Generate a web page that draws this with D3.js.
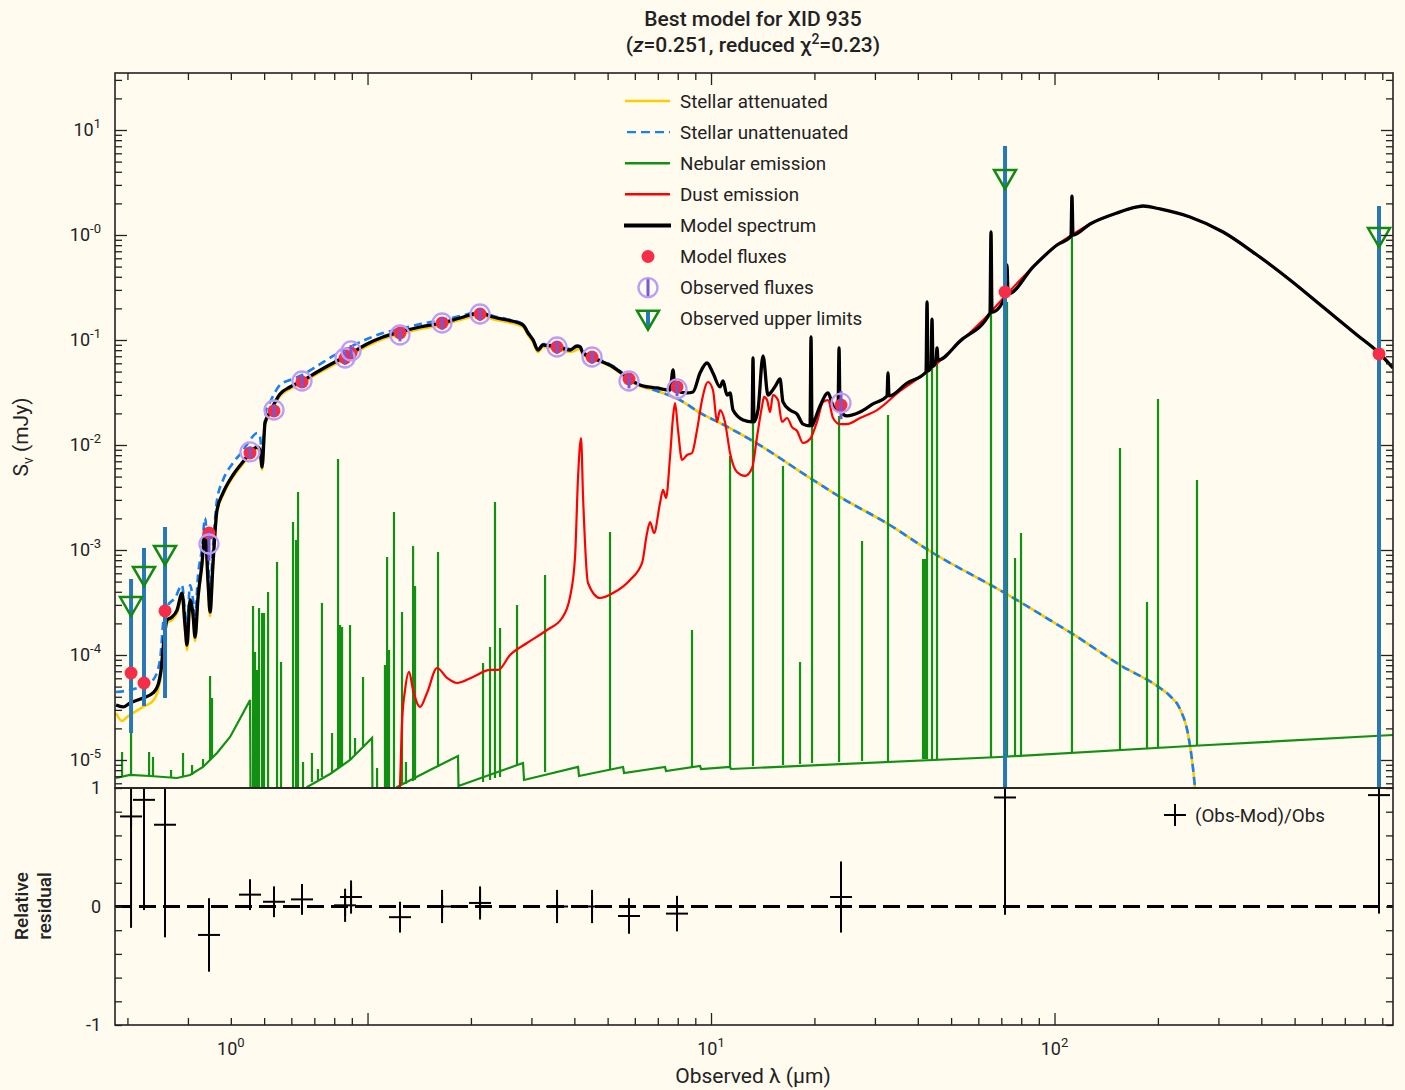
<!DOCTYPE html>
<html>
<head>
<meta charset="utf-8">
<script src="https://cdn.jsdelivr.net/npm/d3@7"></script>
<style>
  body { margin: 0; background: #fffbef; }
  svg text { font-family: Roboto, "Noto Sans", sans-serif; fill: #222; }
</style>
</head>
<body>
<svg id="chart" width="1405" height="1090"></svg>
<script>
// ---- data (wavelength in micron, flux in mJy) ----
var stellarAtt = [[0.1853,2.80e-5],[0.1929,2.35e-5],[0.1995,2.57e-5],[0.2076,2.80e-5],[0.2221,3.20e-5],[0.2374,3.65e-5],[0.2455,4.64e-5],[0.2505,6.45e-5],[0.2555,1.245e-4],[0.2608,2.02e-4],[0.2697,2.15e-4],[0.2789,2.51e-4],[0.2884,3.57e-4],[0.2942,1.73e-4],[0.2982,1.116e-4],[0.3043,3.13e-4],[0.3105,2.25e-4],[0.3147,1.36e-4],[0.3211,3.34e-4],[0.3298,7.04e-4],[0.3365,1.451e-3],[0.3434,4.44e-4],[0.3480,2.35e-4],[0.3550,7.04e-4],[0.3646,2.30e-3],[0.3796,3.34e-3],[0.4058,4.96e-3],[0.4311,6.45e-3],[0.4550,8.03e-3],[0.4768,9.16e-3],[0.4864,8.58e-3],[0.4931,5.78e-3],[0.5030,0.0155],[0.5202,0.0197],[0.5562,0.0293],[0.5948,0.0342],[0.6360,0.0381],[0.7129,0.0475],[0.7937,0.0578],[0.8894,0.0704],[0.9966,0.0877],[1.109,0.1022],[1.243,0.114],[1.422,0.1273],[1.648,0.139],[1.859,0.155],[2.126,0.173],[2.319,0.158],[2.547,0.148],[2.836,0.133],[2.932,0.1116],[3.032,0.0957],[3.135,0.0768],[3.243,0.0858],[3.562,0.0821],[3.886,0.0768],[4.156,0.0821],[4.241,0.072],[4.534,0.0659],[5.184,0.0541],[5.434,0.0485],[5.810,0.0407],[6.214,0.0365],[6.963,0.0327],[8.125,0.0268],[9.290,0.0202],[10.62,0.0162],[13.25,0.0109],[19.42,4.85e-3],[23.74,3.20e-3],[32.75,1.769e-3],[44.29,9.36e-4],[71.77,3.89e-4],[97.0,2.15e-4],[113.2,1.58e-4],[155.1,8.03e-5],[202.8,4.85e-5],[216.9,4.07e-5],[231.9,3.06e-5],[244.7,1.77e-5],[253.0,8.39e-6],[258.2,4.2e-6]];

var stellarUnatt = [[0.1853,4.44e-5],[0.2035,4.64e-5],[0.2221,5.07e-5],[0.2374,5.78e-5],[0.2488,8.96e-5],[0.2555,2.40e-4],[0.2626,2.99e-4],[0.2752,3.49e-4],[0.2884,4.64e-4],[0.2942,2.57e-4],[0.2982,1.93e-4],[0.3043,4.64e-4],[0.3105,3.34e-4],[0.3147,2.40e-4],[0.3211,5.78e-4],[0.3298,1.045e-3],[0.3365,2.02e-3],[0.3434,8.03e-4],[0.3480,4.16e-4],[0.3550,1.116e-3],[0.3646,2.99e-3],[0.3796,4.64e-3],[0.4058,6.74e-3],[0.4311,8.58e-3],[0.4550,0.01116],[0.4768,0.0130],[0.4864,0.01192],[0.4931,8.58e-3],[0.5064,0.0215],[0.5202,0.0257],[0.5562,0.0373],[0.5948,0.0416],[0.6360,0.0454],[0.7129,0.0565],[0.7937,0.0704],[0.8894,0.0858],[0.9966,0.1022],[1.109,0.1166],[1.243,0.1273],[1.422,0.142],[1.648,0.155],[1.859,0.169],[2.126,0.1848],[2.319,0.169],[2.547,0.158],[2.836,0.142],[2.932,0.1192],[3.032,0.1022],[3.135,0.0821],[3.243,0.0916],[3.562,0.0877],[3.886,0.0821],[4.156,0.0877],[4.241,0.0768],[4.534,0.0689],[5.184,0.0565],[5.434,0.0507],[5.810,0.0425],[6.214,0.0373],[6.963,0.0327],[8.125,0.0268],[9.290,0.0202],[10.62,0.0162],[13.25,0.0109],[19.42,4.85e-3],[23.74,3.20e-3],[32.75,1.769e-3],[44.29,9.36e-4],[71.77,3.89e-4],[97.0,2.15e-4],[113.2,1.58e-4],[155.1,8.03e-5],[202.8,4.85e-5],[216.9,4.07e-5],[231.9,3.06e-5],[244.7,1.77e-5],[253.0,8.39e-6],[258.2,4.2e-6]];

// nebular continuum, then emission lines as [wavelength, base, peak]
var nebularCont = [[0.1853,6.74e-6],[0.2035,7.20e-6],[0.2327,7.04e-6],[0.2789,6.74e-6],[0.3043,7.20e-6],[0.3320,8.58e-6],[0.3646,1.166e-5],[0.3979,1.656e-5],[0.4342,2.80e-5],[0.4550,3.73e-5],[0.4565,4.2e-6],[0.6360,4.2e-6],[0.6668,5.53e-6],[0.7778,7.36e-6],[0.8894,1.0e-5],[1.031,1.62e-5],[1.034,4.2e-6],[1.202,4.2e-6],[1.219,5.53e-6],[1.521,8.03e-6],[1.834,1.092e-5],[1.840,5.65e-6],[2.836,9.36e-6],[2.855,6.45e-6],[4.101,8.58e-6],[4.128,7.04e-6],[5.544,8.58e-6],[5.581,7.52e-6],[7.346,8.58e-6],[7.396,7.86e-6],[9.290,8.77e-6],[9.352,8.21e-6],[11.36,8.58e-6],[11.43,8.21e-6],[69.39,1.068e-5],[248.0,1.359e-5],[967,1.73e-5]];

var nebularLines = [[0.1929,6.89e-6,1.192e-5],[0.2049,7.20e-6,1.807e-5],[0.2312,7.04e-6,1.192e-5],[0.2374,7.04e-6,1.068e-5],[0.2679,6.74e-6,8.03e-6],[0.2903,6.89e-6,1.166e-5],[0.3084,7.20e-6,8.96e-6],[0.3320,8.58e-6,1.022e-5],[0.3480,1.0e-5,6.31e-5],[0.3526,1.068e-5,3.89e-5],
  [0.4642,4.2e-6,2.93e-4],[0.4705,4.2e-6,1.068e-4],[0.4768,4.2e-6,7.20e-5],[0.4832,4.2e-6,2.80e-4],[0.4931,4.2e-6,2.51e-4],[0.4997,4.2e-6,2.51e-4],[0.5133,4.2e-6,3.98e-4],[0.5452,4.2e-6,7.68e-4],[0.5600,4.2e-6,8.58e-5],[0.6069,4.2e-6,1.848e-3],[0.6192,4.2e-6,1.245e-3],[0.6276,4.2e-6,3.57e-3],[0.6489,4.2e-6,9.57e-6],
  [0.6889,6.17e-6,1.166e-5],[0.7172,6.45e-6,8.21e-6],[0.7367,6.89e-6,3.13e-4],[0.7883,7.68e-6,1.807e-5],[0.8206,8.39e-6,7.36e-3],[0.8317,8.58e-6,1.93e-4],[0.8430,8.77e-6,1.848e-4],[0.8894,1.0e-5,1.93e-4],[0.9196,1.116e-5,1.62e-5],[0.9703,1.359e-5,6.17e-5],
  [1.066,4.2e-6,8.39e-6],[1.124,4.2e-6,8.03e-5],[1.140,4.2e-6,8.58e-4],[1.155,4.2e-6,1.116e-4],[1.194,4.2e-6,2.30e-3],[1.260,5.78e-6,2.57e-4],[1.294,5.91e-6,9.57e-6],[1.357,6.31e-6,1.09e-3],[1.375,6.45e-6,4.54e-4],[1.604,8.58e-6,9.57e-4],
  [2.169,6.17e-6,8.39e-5],[2.273,6.45e-6,1.192e-4],[2.350,6.74e-6,2.87e-3],[2.431,6.89e-6,1.808e-4],[2.724,8.96e-6,2.99e-4],[3.287,7.68e-6,5.78e-4],[5.081,8.21e-6,1.484e-3],[8.803,8.58e-6,1.73e-4],
  [11.36,8.58e-6,7.86e-3],[13.25,8.77e-6,0.0166],[16.20,8.96e-6,6.31e-3],[18.16,9.16e-6,8.58e-5],[19.68,9.36e-6,0.0155],[23.59,9.57e-6,0.0189],[27.52,9.78e-6,1.218e-3],[32.75,9.78e-6,0.0193],
  [41.42,1.022e-5,8.21e-4],[41.98,1.022e-5,8.21e-4],[42.55,1.022e-5,0.230],[43.99,1.022e-5,0.158],[45.49,1.022e-5,0.0839],[65.33,1.068e-5,1.068],[72.73,1.092e-5,0.230],[76.74,1.092e-5,8.39e-4],[79.88,1.092e-5,1.451e-3],
  [112.4,1.166e-5,1.022],[155.1,1.245e-5,9.36e-3],[185.9,1.273e-5,3.20e-4],[200.1,1.301e-5,0.0274],[259.9,1.359e-5,4.64e-3]];

var dustEmission = [[1.235,4.2e-6],[1.243,5.8e-6],[1.260,2.25e-5],[1.286,4.64e-5],[1.321,6.89e-5],[1.357,4.64e-5],[1.422,3.20e-5],[1.490,4.35e-5],[1.594,7.52e-5],[1.704,6.04e-5],[1.822,5.41e-5],[2.028,6.17e-5],[2.273,7.20e-5],[2.399,7.20e-5],[2.600,1.0e-4],[2.912,1.30e-4],[3.331,1.73e-4],[3.684,2.25e-4],[3.886,3.57e-4],[4.019,8.58e-4],[4.101,4.96e-3],[4.184,1.166e-2],[4.241,3.20e-3],[4.384,4.85e-4],[4.752,3.49e-4],[5.184,3.89e-4],[5.810,5.18e-4],[6.298,7.52e-4],[6.513,1.451e-3],[6.645,1.848e-3],[6.826,1.451e-3],[7.105,2.80e-3],[7.250,3.73e-3],[7.396,3.13e-3],[7.597,7.68e-3],[7.752,0.01848],[7.856,0.0251],[8.015,0.0139],[8.234,7.20e-3],[8.514,8.03e-3],[8.803,8.39e-3],[9.105,0.0139],[9.415,0.0268],[9.801,0.0398],[10.13,0.0334],[10.41,0.0166],[10.62,0.0215],[10.98,0.0166],[11.36,8.39e-3],[11.90,5.53e-3],[12.56,5.07e-3],[13.17,6.04e-3],[13.61,0.01192],[14.08,0.0235],[14.27,0.0287],[14.56,0.0268],[14.85,0.0206],[15.15,0.0299],[15.67,0.0268],[16.09,0.0166],[16.65,0.01808],[17.21,0.0148],[17.80,0.0136],[18.53,0.01045],[19.42,0.0114],[20.35,0.0166],[21.19,0.0257],[21.91,0.0268],[22.66,0.01808],[23.74,0.0158],[24.88,0.0158],[27.15,0.01808],[30.43,0.0215],[35.50,0.0327],[42.55,0.0496],[53.08,0.0957],[64.89,0.1808],[72.73,0.274],[86.57,0.496],[101.7,0.803],[112.4,1.0],[126.9,1.273],[152.0,1.620],[173.9,1.848],[181.0,1.889],[202.8,1.769],[248.0,1.484],[309.5,1.068],[388.6,0.645],[484.9,0.373],[604.9,0.206],[759.6,0.1116],[880.4,0.0752],[967,0.0541]];

var modelSpectrum = [[0.1853,3.34e-5],[0.1942,3.20e-5],[0.2035,3.49e-5],[0.2221,3.89e-5],[0.2374,4.35e-5],[0.2455,5.18e-5],[0.2505,7.20e-5],[0.2555,1.39e-4],[0.2608,2.15e-4],[0.2697,2.30e-4],[0.2789,2.68e-4],[0.2884,3.89e-4],[0.2942,1.93e-4],[0.2982,1.245e-4],[0.3043,3.34e-4],[0.3105,2.40e-4],[0.3147,1.48e-4],[0.3211,3.57e-4],[0.3298,7.52e-4],[0.3365,1.55e-3],[0.3434,4.85e-4],[0.3480,2.57e-4],[0.3550,7.52e-4],[0.3646,2.40e-3],[0.3796,3.49e-3],[0.4058,5.18e-3],[0.4311,6.74e-3],[0.4550,8.39e-3],[0.4768,9.57e-3],[0.4864,8.96e-3],[0.4931,6.17e-3],[0.5030,1.62e-2],[0.5202,2.06e-2],[0.5562,3.06e-2],[0.5948,3.57e-2],[0.6360,3.98e-2],[0.7129,4.96e-2],[0.7937,6.04e-2],[0.8894,7.36e-2],[0.9966,9.16e-2],[1.109,0.1068],[1.243,0.1192],[1.422,0.1330],[1.648,0.1451],[1.859,0.162],[2.126,0.1808],[2.319,0.1656],[2.547,0.155],[2.836,0.139],[2.932,0.1166],[3.032,0.1],[3.135,0.0803],[3.243,0.0896],[3.562,0.0858],[3.886,0.0803],[4.073,0.0877],[4.156,0.0858],[4.241,0.0752],[4.534,0.0674],[5.184,0.0553],[5.434,0.0496],[5.810,0.0416],[6.214,0.0373],[6.963,0.0349],[7.597,0.0334],[7.752,0.0518],[7.856,0.0334],[8.514,0.0313],[8.862,0.0320],[9.290,0.0485],[9.736,0.0604],[10.13,0.0485],[10.62,0.0357],[10.84,0.0407],[11.13,0.0299],[11.36,0.0313],[11.59,0.0215],[12.40,0.0173],[13.17,0.0166],[13.25,0.0674],[13.34,0.0166],[13.70,0.0215],[14.17,0.0704],[14.65,0.0299],[15.05,0.0327],[15.46,0.0373],[15.88,0.0425],[16.20,0.0257],[16.98,0.0215],[17.80,0.0197],[18.53,0.0158],[19.42,0.0152],[19.55,0.1068],[19.68,0.0152],[19.81,0.0158],[20.77,0.0235],[21.91,0.0313],[22.66,0.0235],[23.43,0.0215],[23.59,0.0839],[23.74,0.0215],[24.88,0.0189],[27.15,0.0206],[29.62,0.0246],[32.54,0.0293],[32.75,0.0485],[32.97,0.0293],[37.21,0.0389],[42.26,0.0496],[42.55,0.230],[42.83,0.0507],[43.70,0.0553],[43.99,0.158],[44.29,0.0565],[45.19,0.0631],[45.49,0.0839],[45.80,0.0645],[53.08,0.0978],[64.89,0.1808],[65.33,1.068],[65.77,0.1848],[72.24,0.268],[72.73,0.518],[73.22,0.274],[86.57,0.496],[101.7,0.803],[111.7,0.978],[112.4,2.35],[113.2,1.0],[126.9,1.273],[152.0,1.620],[173.9,1.848],[181.0,1.889],[202.8,1.769],[248.0,1.484],[309.5,1.068],[388.6,0.645],[484.9,0.373],[604.9,0.206],[759.6,0.1116],[880.4,0.0752],[967,0.0541]];

// photometric bands
var bandWl    = [0.2049,0.2235,0.2573,0.3455,0.4548,0.5342,0.6446,0.8603,0.8954,1.243,1.648,2.126,3.562,4.504,5.771,7.962,23.90,71.77,880.4];
var modelFlux = [6.74e-5,5.41e-5,2.63e-4,1.45e-3,8.39e-3,0.0211,0.0398,0.0674,0.0752,0.1166,0.1451,0.1769,0.0858,0.0689,0.0425,0.0357,0.0240,0.2865,0.0736];

var obsWl   = [0.3455,0.4548,0.5342,0.6446,0.8603,0.8954,1.243,1.648,2.126,3.562,4.504,5.771,7.962,23.90];
var obsFlux = [1.14e-3,8.58e-3,0.02154,0.0407,0.0674,0.0786,0.1116,0.1451,0.1769,0.0858,0.0689,0.0407,0.0342,0.0251];
var obsErr  = [3.5e-4,1.1e-3,2.8e-3,5.3e-3,9.4e-3,0.011,0.0145,0.020,0.025,0.012,9.6e-3,6.1e-3,5.1e-3,7.5e-3];

var ulWl    = [0.2049,0.2235,0.2573,71.77,880.4];
var ulFlux  = [2.99e-4,5.78e-4,9.16e-4,3.49,0.978];
var ulBarHi = [5.29e-4,1.045e-3,1.66e-3,7.04,1.89];
var ulBarLo = [1.81e-5,3.27e-5,3.89e-5,1e-7,1e-7];

var resid    = [0.76,0.90,0.69,-0.24,0.10,0.04,0.06,0.01,0.08,-0.09,0.0,0.03,0.0,0.0,-0.08,-0.06,0.08,0.92,0.94];
var residErr = [0.94,0.93,0.95,0.31,0.13,0.13,0.13,0.14,0.14,0.13,0.14,0.14,0.14,0.14,0.15,0.15,0.30,0.99,1.0];

// tick labels: exponent shown and where the label sits
var xTickLabels = [{exp:"0", at:0.4}, {exp:"1", at:10}, {exp:"2", at:100}];
var yTickLabels = [{v:10, exp:"1"}, {v:1, exp:"-0"}, {v:0.1, exp:"-1"}, {v:0.01, exp:"-2"}, {v:1e-3, exp:"-3"}, {v:1e-4, exp:"-4"}, {v:1e-5, exp:"-5"}];
var residTickLabels = [1, 0, -1];

var legendItems = ["Stellar attenuated", "Stellar unattenuated", "Nebular emission", "Dust emission", "Model spectrum", "Model fluxes", "Observed fluxes", "Observed upper limits"];

(function() {
    // ---- layout ----
    var svg = d3.select("#chart");
    var pL = 115, pR = 1393, pT = 73, pM = 788, pB = 1025;
    var ink = "#222";

    var x = d3.scaleLog().domain([0.184, 967]).range([pL, pR]);
    var y = d3.scaleLog().domain([5.41e-6, 34.9]).range([pM, pT]);
    var yr = d3.scaleLinear().domain([-1, 1]).range([pB, pM]);

    var defs = svg.append("defs");
    defs.append("clipPath").attr("id", "clipMain").append("rect")
        .attr("x", pL).attr("y", pT).attr("width", pR - pL).attr("height", pM - pT);
    defs.append("clipPath").attr("id", "clipRes").append("rect")
        .attr("x", pL).attr("y", pM).attr("width", pR - pL).attr("height", pB - pM);

    var line = d3.line().x(function(d){ return x(d[0]); }).y(function(d){ return y(d[1]); });
    var smooth = d3.line().curve(d3.curveMonotoneX)
        .x(function(d){ return x(d[0]); }).y(function(d){ return y(d[1]); });

    var main = svg.append("g").attr("clip-path", "url(#clipMain)");

    main.append("path").datum(stellarAtt).attr("d", smooth)
        .attr("fill", "none").attr("stroke", "#ffcc00").attr("stroke-width", 2.6);
    main.append("path").datum(stellarUnatt).attr("d", smooth)
        .attr("fill", "none").attr("stroke", "#1a7ff0").attr("stroke-width", 2.6)
        .attr("stroke-dasharray", "8,5");

    var neb = main.append("g").attr("stroke", "#129012").attr("fill", "none").attr("stroke-width", 2.2);
    neb.append("path").datum(nebularCont).attr("d", line);
    neb.selectAll("path.ln").data(nebularLines).enter().append("path").attr("class", "ln")
        .attr("d", function(d){ return line([[d[0], d[1]], [d[0], d[2]]]); });

    main.append("path").datum(dustEmission).attr("d", smooth)
        .attr("fill", "none").attr("stroke", "#ff0000").attr("stroke-width", 2.2);
    main.append("path").datum(modelSpectrum).attr("d", smooth)
        .attr("fill", "none").attr("stroke", "#000").attr("stroke-width", 3.3)
        .attr("stroke-linejoin", "round");

    // upper limit bars
    main.selectAll("line.ulbar").data(ulWl).enter().append("line")
        .attr("x1", function(d){ return x(d); }).attr("x2", function(d){ return x(d); })
        .attr("y1", function(d, i){ return y(ulBarHi[i]); })
        .attr("y2", function(d, i){ return y(ulBarLo[i]); })
        .attr("stroke", "#2878b8").attr("stroke-width", 4);

    // model fluxes
    main.selectAll("circle.mod").data(bandWl).enter().append("circle")
        .attr("cx", function(d){ return x(d); }).attr("cy", function(d, i){ return y(modelFlux[i]); })
        .attr("r", 6.5).attr("fill", "#f72d48");

    // observed fluxes
    var obs = main.selectAll("g.obs").data(obsWl).enter().append("g");
    obs.append("line")
        .attr("x1", function(d){ return x(d); }).attr("x2", function(d){ return x(d); })
        .attr("y1", function(d, i){ return y(obsFlux[i] + obsErr[i]); })
        .attr("y2", function(d, i){ return y(obsFlux[i] - obsErr[i]); })
        .attr("stroke", "#7858d0").attr("stroke-width", 3);
    obs.append("circle")
        .attr("cx", function(d){ return x(d); }).attr("cy", function(d, i){ return y(obsFlux[i]); })
        .attr("r", 9.5).attr("fill", "none").attr("stroke", "#bc9cf4").attr("stroke-width", 2.3);

    // upper limit triangles
    var tri = "M-11,-8L11,-8L0,11Z";
    main.selectAll("path.ul").data(ulWl).enter().append("path")
        .attr("d", tri)
        .attr("transform", function(d, i){ return "translate(" + x(d) + "," + y(ulFlux[i]) + ")"; })
        .attr("fill", "none").attr("stroke", "#128a12").attr("stroke-width", 2.5);

    // ---- residual panel ----
    var res = svg.append("g").attr("clip-path", "url(#clipRes)");
    res.append("line").attr("x1", pL).attr("x2", pR).attr("y1", yr(0)).attr("y2", yr(0))
        .attr("stroke", "#000").attr("stroke-width", 3).attr("stroke-dasharray", "17,7");
    var cr = res.selectAll("g.cr").data(bandWl).enter().append("g")
        .attr("stroke", "#000").attr("stroke-width", 2);
    cr.append("line")
        .attr("x1", function(d){ return x(d); }).attr("x2", function(d){ return x(d); })
        .attr("y1", function(d, i){ return yr(resid[i] + residErr[i]); })
        .attr("y2", function(d, i){ return yr(resid[i] - residErr[i]); });
    cr.append("line")
        .attr("x1", function(d){ return x(d) - 11; }).attr("x2", function(d){ return x(d) + 11; })
        .attr("y1", function(d, i){ return yr(resid[i]); })
        .attr("y2", function(d, i){ return yr(resid[i]); });
    cr.append("line")
        .attr("x1", function(d){ return x(d); }).attr("x2", function(d){ return x(d); })
        .attr("y1", function(d, i){ return yr(resid[i]) - 11; })
        .attr("y2", function(d, i){ return yr(resid[i]) + 11; });

    // ---- axes (ticks inward) ----
    var decades = [1e-6,1e-5,1e-4,1e-3,1e-2,1e-1,1,10,100];
    var yMinor = [], xMinor = [];
    decades.forEach(function(p){
        for (var k = 2; k < 10; k++) {
            var v = k * p;
            if (v > y.domain()[0] && v < y.domain()[1]) yMinor.push(v);
            if (v > x.domain()[0] && v < x.domain()[1]) xMinor.push(v);
        }
    });
    var yMajor = [1e-5,1e-4,1e-3,1e-2,1e-1,1,10];
    var xMajor = [1, 10, 100];

    function tickAxis(axis, tr, size, vals){
        var g = svg.append("g").attr("transform", tr)
            .call(axis.tickValues(vals).tickSize(size).tickFormat(""));
        g.select(".domain").remove();
        g.selectAll("line").attr("stroke", ink).attr("stroke-width", 1.3);
    }
    tickAxis(d3.axisLeft(y), "translate(" + pL + ",0)", -7, yMinor);
    tickAxis(d3.axisLeft(y), "translate(" + pL + ",0)", -12, yMajor);
    tickAxis(d3.axisRight(y), "translate(" + pR + ",0)", -7, yMinor);
    tickAxis(d3.axisRight(y), "translate(" + pR + ",0)", -12, yMajor);
    tickAxis(d3.axisTop(x), "translate(0," + pT + ")", -7, xMinor);
    tickAxis(d3.axisTop(x), "translate(0," + pT + ")", -12, xMajor);
    tickAxis(d3.axisBottom(x), "translate(0," + pB + ")", -7, xMinor);
    tickAxis(d3.axisBottom(x), "translate(0," + pB + ")", -12, xMajor);
    var rTicks = d3.range(-10, 11, 2).map(function(k){ return k / 10; });
    tickAxis(d3.axisLeft(yr), "translate(" + pL + ",0)", -7, rTicks);
    tickAxis(d3.axisRight(yr), "translate(" + pR + ",0)", -7, rTicks);

    // frames
    [[pT, pM], [pM, pB]].forEach(function(r){
        svg.append("rect").attr("x", pL).attr("y", r[0]).attr("width", pR - pL).attr("height", r[1] - r[0])
            .attr("fill", "none").attr("stroke", ink).attr("stroke-width", 1.6);
    });

    // tick labels
    yTickLabels.forEach(function(t){
        var tx = svg.append("text").attr("x", 101).attr("y", y(t.v) + 6)
            .attr("text-anchor", "end").attr("font-size", 18);
        tx.append("tspan").text("10");
        tx.append("tspan").attr("dy", -8).attr("font-size", 13).text(t.exp);
    });
    xTickLabels.forEach(function(t){
        var tx = svg.append("text").attr("x", x(t.at)).attr("y", 1055)
            .attr("text-anchor", "middle").attr("font-size", 18);
        tx.append("tspan").text("10");
        tx.append("tspan").attr("dy", -8).attr("font-size", 13).text(t.exp);
    });
    residTickLabels.forEach(function(v){
        svg.append("text").attr("x", 101).attr("y", yr(v) + 6)
            .attr("text-anchor", "end").attr("font-size", 18).text(v);
    });

    // axis titles
    svg.append("text").attr("x", 753).attr("y", 1083).attr("text-anchor", "middle").attr("font-size", 21)
        .text("Observed \u03bb (\u00b5m)");
    var yl = svg.append("text").attr("transform", "translate(28,437) rotate(-90)")
        .attr("text-anchor", "middle").attr("font-size", 21);
    yl.append("tspan").text("S");
    yl.append("tspan").attr("dy", 5).attr("font-size", 14).text("\u03bd");
    yl.append("tspan").attr("dy", -5).text(" (mJy)");
    svg.append("text").attr("transform", "translate(28,906) rotate(-90)")
        .attr("text-anchor", "middle").attr("font-size", 19).attr("font-weight", 500).text("Relative");
    svg.append("text").attr("transform", "translate(51,906) rotate(-90)")
        .attr("text-anchor", "middle").attr("font-size", 19).attr("font-weight", 500).text("residual");

    // title
    svg.append("text").attr("x", 753).attr("y", 26).attr("text-anchor", "middle").attr("font-size", 21)
        .attr("font-weight", 500).text("Best model for XID 935");
    var t2 = svg.append("text").attr("x", 753).attr("y", 52).attr("text-anchor", "middle").attr("font-size", 21)
        .attr("font-weight", 500);
    t2.append("tspan").text("(");
    t2.append("tspan").attr("font-style", "italic").text("z");
    t2.append("tspan").text("=0.251, reduced \u03c7");
    t2.append("tspan").attr("dy", -8).attr("font-size", 14).text("2");
    t2.append("tspan").attr("dy", 8).text("=0.23)");

    // ---- legend ----
    var lg = svg.append("g");
    var rowY = function(i){ return 101 + i * 31.1; };
    legendItems.forEach(function(name, i){
        lg.append("text").attr("x", 680).attr("y", rowY(i) + 6.5).attr("font-size", 18.8).text(name);
    });
    lg.append("line").attr("x1", 625).attr("x2", 670).attr("y1", rowY(0)).attr("y2", rowY(0))
        .attr("stroke", "#ffcc00").attr("stroke-width", 2.4);
    lg.append("line").attr("x1", 627).attr("x2", 670).attr("y1", rowY(1)).attr("y2", rowY(1))
        .attr("stroke", "#1a7ff0").attr("stroke-width", 2.4).attr("stroke-dasharray", "9,5");
    lg.append("line").attr("x1", 625).attr("x2", 670).attr("y1", rowY(2)).attr("y2", rowY(2))
        .attr("stroke", "#129012").attr("stroke-width", 2.4);
    lg.append("line").attr("x1", 625).attr("x2", 670).attr("y1", rowY(3)).attr("y2", rowY(3))
        .attr("stroke", "#ff0000").attr("stroke-width", 2.4);
    lg.append("line").attr("x1", 624).attr("x2", 671).attr("y1", rowY(4)).attr("y2", rowY(4))
        .attr("stroke", "#000").attr("stroke-width", 4);
    lg.append("circle").attr("cx", 648).attr("cy", rowY(5)).attr("r", 6.5).attr("fill", "#f72d48");
    lg.append("line").attr("x1", 648).attr("x2", 648).attr("y1", rowY(6) - 9).attr("y2", rowY(6) + 9)
        .attr("stroke", "#7858d0").attr("stroke-width", 3);
    lg.append("circle").attr("cx", 648).attr("cy", rowY(6)).attr("r", 9.5)
        .attr("fill", "none").attr("stroke", "#bc9cf4").attr("stroke-width", 2.3);
    lg.append("line").attr("x1", 648).attr("x2", 648).attr("y1", rowY(7) - 8).attr("y2", rowY(7) + 9)
        .attr("stroke", "#2878b8").attr("stroke-width", 4);
    lg.append("path").attr("d", tri).attr("transform", "translate(648," + rowY(7) + ")")
        .attr("fill", "none").attr("stroke", "#128a12").attr("stroke-width", 2.5);

    // residual legend
    var rl = svg.append("g").attr("stroke", "#000").attr("stroke-width", 2);
    rl.append("line").attr("x1", 1164).attr("x2", 1186).attr("y1", 815).attr("y2", 815);
    rl.append("line").attr("x1", 1175).attr("x2", 1175).attr("y1", 804).attr("y2", 826);
    svg.append("text").attr("x", 1195).attr("y", 821.5).attr("font-size", 18.8).text("(Obs-Mod)/Obs");
})();
</script>
</body>
</html>
